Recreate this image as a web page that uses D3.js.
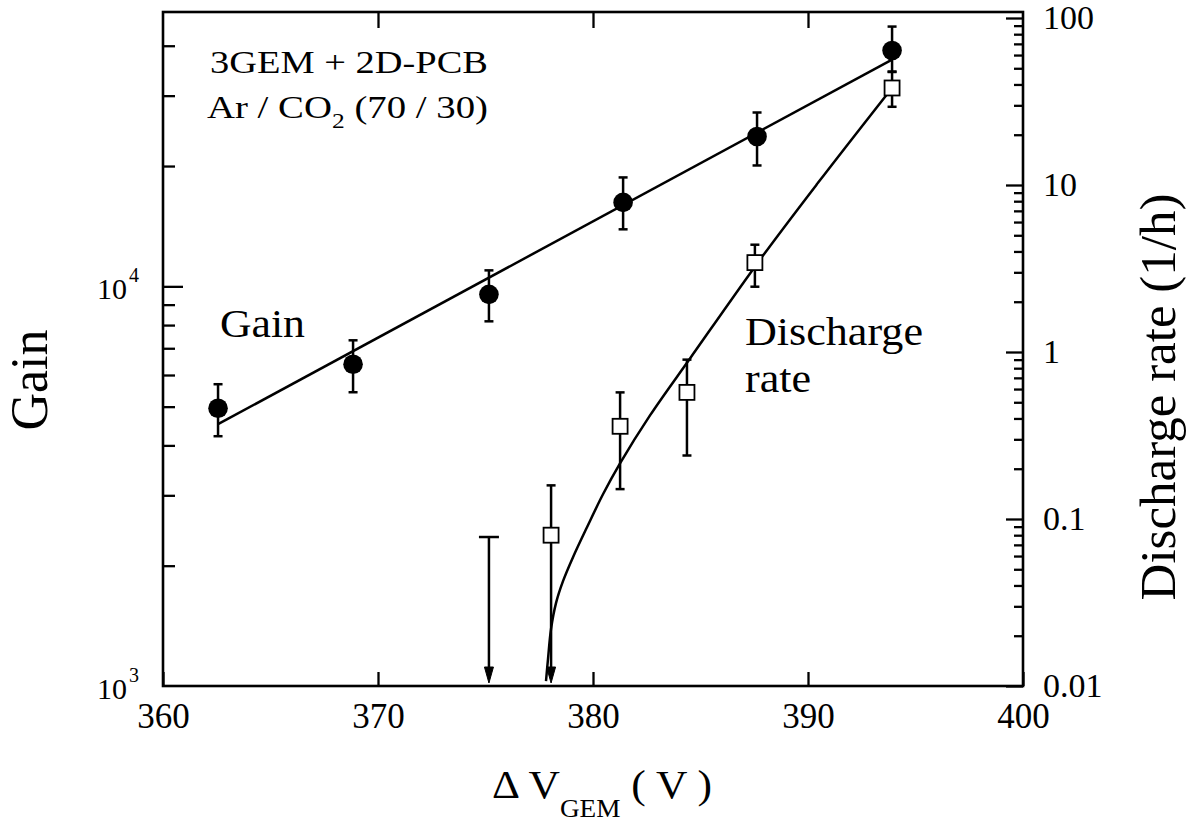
<!DOCTYPE html>
<html>
<head>
<meta charset="utf-8">
<script src="https://cdn.jsdelivr.net/npm/d3@7"></script>
<style>
  html, body { margin: 0; padding: 0; background: #fff; }
  svg { display: block; }
  svg text { font-family: "Liberation Serif", "Times New Roman", serif; fill: #000; }
</style>
</head>
<body>
<svg id="chart" width="1199" height="822"></svg>
<script>
// Gas gain and discharge rate of a triple-GEM detector vs. GEM voltage
const voltageTicks = [360, 370, 380, 390, 400];

// Gain measurements (left axis)
const gainV   = [362.56, 368.84, 375.16, 381.40, 387.63, 393.91];
const gainVal = [4955, 6383, 9550, 16218, 23714, 38905];
const gainLo  = [4217, 5433, 8175, 13890, 20066, 34474];
const gainHi  = [5690, 7328, 10965, 18730, 27227, 44668];

// Exponential fit to the gain
const gainFitV   = [362.56, 393.91];
const gainFitVal = [4519, 36940];

// Discharge rate measurements (right axis, 1/h); null = no lower bound (arrow)
const rateV   = [378.05, 381.26, 384.37, 387.53, 393.91];
const rateVal = [0.080, 0.359, 0.573, 3.43, 38.1];
const rateLo  = [null, 0.151, 0.24, 2.46, 29.4];
const rateHi  = [0.159, 0.573, 0.90, 4.39, 47.5];

// Upper limit only
const rateLimitV   = [375.16];
const rateLimitVal = [0.078];

// Fitted discharge-rate curve
const rateFitV   = [377.814, 377.907, 378.047, 378.279, 378.605, 379.070, 379.721, 380.465,
                    381.256, 382.651, 384.512, 387.767, 390.465, 393.907];
const rateFitVal = [0.01071, 0.01450, 0.02192, 0.03135, 0.04244, 0.05906, 0.08926, 0.1406,
                    0.2154, 0.4172, 0.9144, 3.573, 10.31, 38.14];

// Axis tick values
const gainMajor = [1e3, 1e4];
const gainMinor = [2e3, 3e3, 4e3, 5e3, 6e3, 7e3, 8e3, 9e3, 2e4, 3e4, 4e4];
const gainLabels = ["3", "4"];
const rateMajor = [0.01, 0.1, 1, 10, 100];
const rateMajorLabels = ["0.01", "0.1", "1", "10", "100"];
const rateMinor = [0.02,0.03,0.04,0.05,0.06,0.07,0.08,0.09,
                   0.2,0.3,0.4,0.5,0.6,0.7,0.8,0.9,
                   2,3,4,5,6,7,8,9,
                   20,30,40,50,60,70,80,90];

const svg = d3.select("#chart");
const L = 163, R = 1023, T = 12, B = 686;

const x  = d3.scaleLinear().domain([360, 400]).range([L, R]);
const yL = d3.scaleLog().domain([1e3, 5e4]).range([B, 7]);
const yR = d3.scaleLog().domain([0.01, 100]).range([B, 18]);

svg.append("rect").attr("width", 1199).attr("height", 822).attr("fill", "#fff");

// ---- axes (ticks point inward) ----
const tickStyle = g => {
  g.attr("font-family", null).attr("font-size", null);
  g.select(".domain").remove();
  g.selectAll(".tick line").attr("stroke", "#000").attr("stroke-width", 2.3);
  g.selectAll(".tick text").attr("fill", "#000");
};

svg.append("g")
  .attr("transform", `translate(0,${B})`)
  .call(d3.axisBottom(x).tickValues(voltageTicks).tickSizeInner(-14).tickSizeOuter(0).tickPadding(17).tickFormat(d3.format("d")))
  .call(tickStyle)
  .call(g => g.selectAll(".tick text").style("font-size", "35px"));

svg.append("g")
  .attr("transform", `translate(0,${T})`)
  .call(d3.axisTop(x).tickValues(voltageTicks.slice(1, -1)).tickSizeInner(-16).tickSizeOuter(0).tickFormat(""))
  .call(tickStyle);

svg.append("g")
  .attr("transform", `translate(${L},0)`)
  .call(d3.axisLeft(yL).tickValues([1e4]).tickSizeInner(-20).tickSizeOuter(0).tickFormat(""))
  .call(tickStyle);
svg.append("g")
  .attr("transform", `translate(${L},0)`)
  .call(d3.axisLeft(yL).tickValues(gainMinor).tickSizeInner(-12).tickSizeOuter(0).tickFormat(""))
  .call(tickStyle);

svg.append("g")
  .attr("transform", `translate(${R},0)`)
  .call(d3.axisRight(yR).tickValues(rateMajor).tickSizeInner(-17).tickSizeOuter(0).tickPadding(20)
        .tickFormat((d, i) => rateMajorLabels[i]))
  .call(tickStyle)
  .call(g => g.selectAll(".tick text").style("font-size", "34px"));
svg.append("g")
  .attr("transform", `translate(${R},0)`)
  .call(d3.axisRight(yR).tickValues(rateMinor).tickSizeInner(-9).tickSizeOuter(0).tickFormat(""))
  .call(tickStyle);

// Power-of-ten labels on the gain axis
gainMajor.forEach((v, i) => {
  svg.append("text")
    .attr("x", 127).attr("y", yL(v) + 13)
    .style("font-size", "30px").attr("text-anchor", "end").text("10");
  svg.append("text")
    .attr("x", 129).attr("y", yL(v) - 4)
    .style("font-size", "20px").text(gainLabels[i]);
});

// frame
svg.append("rect")
  .attr("x", L).attr("y", T).attr("width", R - L).attr("height", B - T)
  .attr("fill", "none").attr("stroke", "#000").attr("stroke-width", 2.6);

// ---- gain series ----
const gainFit = gainFitV.map((v, i) => [x(v), yL(gainFitVal[i])]);
svg.append("path").attr("d", d3.line()(gainFit))
  .attr("fill", "none").attr("stroke", "#000").attr("stroke-width", 2.5);

const cap = 9;
gainV.forEach((v, i) => {
  const cx = x(v);
  svg.append("line").attr("x1", cx).attr("x2", cx)
    .attr("y1", yL(gainLo[i])).attr("y2", yL(gainHi[i]))
    .attr("stroke", "#000").attr("stroke-width", 2.5);
  [gainLo[i], gainHi[i]].forEach(e => {
    svg.append("line").attr("x1", cx - cap / 2).attr("x2", cx + cap / 2)
      .attr("y1", yL(e)).attr("y2", yL(e))
      .attr("stroke", "#000").attr("stroke-width", 2.5);
  });
});
svg.selectAll("circle.gain").data(gainV).join("circle")
  .attr("class", "gain")
  .attr("cx", d => x(d)).attr("cy", (d, i) => yL(gainVal[i]))
  .attr("r", 9.8).attr("fill", "#000");

// ---- discharge rate series ----
const rateFit = rateFitV.map((v, i) => [x(v), yR(rateFitVal[i])]);
svg.append("path").attr("d", d3.line().curve(d3.curveCatmullRom.alpha(0.5))(rateFit))
  .attr("fill", "none").attr("stroke", "#000").attr("stroke-width", 2.5);

const arrowTip = yR(0.01) - 3;
function arrowHead(cx) {
  svg.append("path")
    .attr("d", `M${cx - 4.5},${arrowTip - 16} L${cx},${arrowTip} L${cx + 4.5},${arrowTip - 16} Z`)
    .attr("fill", "#000").attr("stroke", "#000").attr("stroke-width", 1);
}

rateV.forEach((v, i) => {
  const cx = x(v);
  const lowY = rateLo[i] === null ? arrowTip - 6 : yR(rateLo[i]);
  svg.append("line").attr("x1", cx).attr("x2", cx)
    .attr("y1", lowY).attr("y2", yR(rateHi[i]))
    .attr("stroke", "#000").attr("stroke-width", 2.5);
  svg.append("line").attr("x1", cx - cap / 2).attr("x2", cx + cap / 2)
    .attr("y1", yR(rateHi[i])).attr("y2", yR(rateHi[i]))
    .attr("stroke", "#000").attr("stroke-width", 2.5);
  if (rateLo[i] === null) {
    arrowHead(cx);
  } else {
    svg.append("line").attr("x1", cx - cap / 2).attr("x2", cx + cap / 2)
      .attr("y1", yR(rateLo[i])).attr("y2", yR(rateLo[i]))
      .attr("stroke", "#000").attr("stroke-width", 2.5);
  }
});

rateLimitV.forEach((v, i) => {
  const cx = x(v), cy = yR(rateLimitVal[i]);
  svg.append("line").attr("x1", cx).attr("x2", cx).attr("y1", cy).attr("y2", arrowTip - 6)
    .attr("stroke", "#000").attr("stroke-width", 2.5);
  svg.append("line").attr("x1", cx - 10).attr("x2", cx + 10).attr("y1", cy).attr("y2", cy)
    .attr("stroke", "#000").attr("stroke-width", 2.5);
  arrowHead(cx);
});

const sq = 15;
svg.selectAll("rect.rate").data(rateV).join("rect")
  .attr("class", "rate")
  .attr("x", d => x(d) - sq / 2).attr("y", (d, i) => yR(rateVal[i]) - sq / 2)
  .attr("width", sq).attr("height", sq)
  .attr("fill", "#fff").attr("stroke", "#000").attr("stroke-width", 1.8);

// ---- text ----
function placeStretched(sel, px, py, targetW) {
  const w = sel.node().getBBox().width;
  sel.attr("transform", `translate(${px},${py}) scale(${targetW / w},1)`);
  return targetW / w;
}

const t1 = svg.append("text").style("font-size", "32px").text("3GEM + 2D-PCB");
placeStretched(t1, 210, 73, 278);

const t2 = svg.append("text").style("font-size", "32px");
t2.append("tspan").text("Ar / CO");
t2.append("tspan").style("font-size", "21px").attr("dy", 10).text("2");
t2.append("tspan").attr("dy", -10).text(" (70 / 30)");
placeStretched(t2, 207, 118, 281);

const tg = svg.append("text").style("font-size", "39px").text("Gain");
placeStretched(tg, 220, 337, 85);

const td = svg.append("text").style("font-size", "40px").text("Discharge");
const sd = placeStretched(td, 745, 345, 178);
svg.append("text").style("font-size", "40px").text("rate")
  .attr("transform", `translate(745,392) scale(${sd},1)`);

// axis titles
svg.append("text")
  .attr("transform", "translate(47,380) rotate(-90)")
  .attr("text-anchor", "middle").style("font-size", "52px").text("Gain");

svg.append("text")
  .attr("transform", "translate(1175,397) rotate(-90)")
  .attr("text-anchor", "middle").style("font-size", "51px").text("Discharge rate (1/h)");

const tx = svg.append("text").style("font-size", "40px");
tx.append("tspan").text("\u0394 V");
tx.append("tspan").style("font-size", "25px").attr("dy", 19).text("GEM");
tx.append("tspan").attr("dy", -19).text(" ( V )");
placeStretched(tx, 492, 798, 220);
</script>
</body>
</html>
